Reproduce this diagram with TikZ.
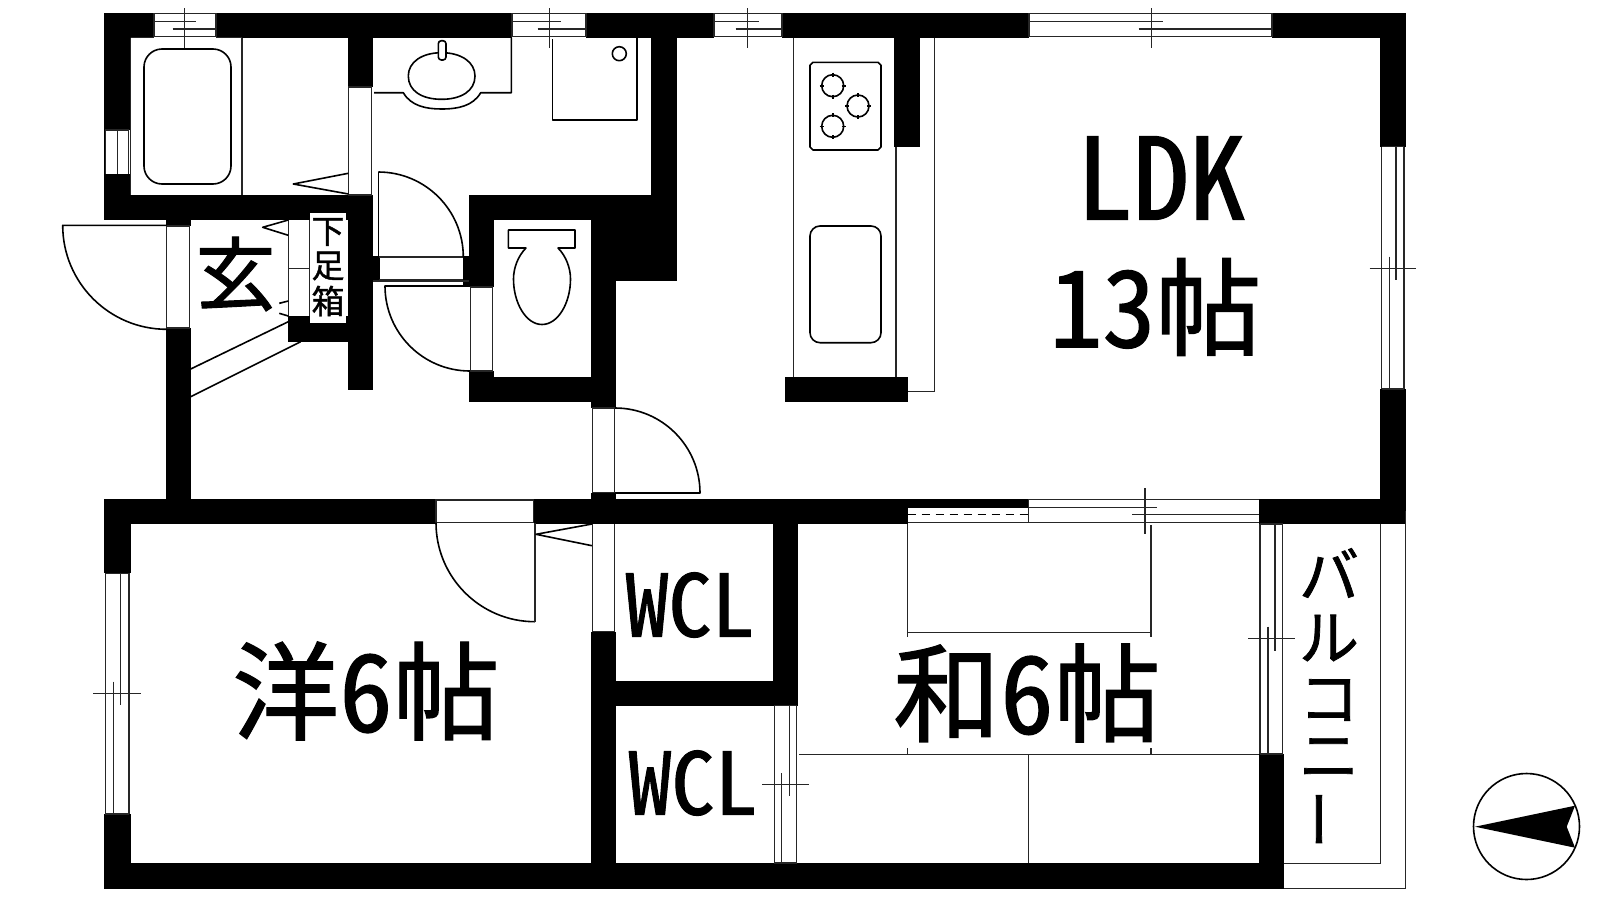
\documentclass[tikz,border=0pt]{standalone}
\usepackage{fontspec}
\newfontfamily\jp[FakeBold=1.2,RawFeature={+hwid}]{Noto Sans CJK JP}
\tikzset{
  wall/.style={fill=black},
  hole/.style={fill=white},
  ln/.style={draw=black!85,line width=.75pt},
  fx/.style={draw=black,line width=.8pt,line join=round},
  lbl/.style={inner sep=0pt,outer sep=0pt,text=black,anchor=center},
}
\newcommand\fs[1]{\jp\fontsize{#1pt}{#1pt}\selectfont}
% top window: x1 x2 xa xb xt (upper line x1..xa, lower line xb..x2, tick xt)
\newcommand\topwin[5]{%
  \fill[hole] (#1,13) rectangle (#2,37.7);
  \draw[ln] (#1,13.5) -- (#2,13.5) (#1,36.7) -- (#2,36.7) (#1,13) -- (#1,37) (#2,13) -- (#2,37);
  \draw[ln] (#1,21.7) -- (#3,21.7) (#4,29) -- (#2,29) (#5,8) -- (#5,48);}
% side window: xl xr x-a x-b y1 y2 ya yb yt
\newcommand\sidewin[9]{%
  \fill[hole] (#1,#5) rectangle (#2,#6);
  \draw[ln] (#1,#5) -- (#1,#6) (#2,#5) -- (#2,#6) (#1,#5) -- (#2,#5) (#1,#6) -- (#2,#6);
  \draw[ln] (#3,#5) -- (#3,#7) (#4,#8) -- (#4,#6) (#1-12,#9) -- (#2+12,#9);}
\begin{document}
\begin{tikzpicture}[x=.5pt,y=-.5pt]
\useasboundingbox (0,0) rectangle (1600,900);
\fill[white] (0,0) rectangle (1600,900);
% ---- walls
\fill[wall] (104,13) rectangle (1405.7,37.7);
\fill[wall] (104,13) rectangle (130.5,220);
\fill[wall] (104,195) rectangle (373,220);
\fill[wall] (348,13) rectangle (373,87);
\fill[wall] (348,195) rectangle (373,390);
\fill[wall] (165.5,220) rectangle (190.7,510);
\fill[wall] (287.5,316) rectangle (373,341.7);
\fill[wall] (373,256) rectangle (379.5,281);
\fill[wall] (462.7,256) rectangle (494,287);
\fill[wall] (469,195) rectangle (494,287);
\fill[wall] (469,195) rectangle (677,220);
\fill[wall] (651,13) rectangle (677,281);
\fill[wall] (591.3,220) rectangle (677,281);
\fill[wall] (591.3,281) rectangle (615.7,408);
\fill[wall] (469,371) rectangle (494,401.7);
\fill[wall] (469,377) rectangle (615.7,401.7);
\fill[wall] (591.3,492.7) rectangle (615.7,524);
\fill[wall] (894,37) rectangle (920,146.7);
\fill[wall] (785,377) rectangle (908,401.7);
\fill[wall] (1380,13) rectangle (1405.7,146.7);
\fill[wall] (1380,389) rectangle (1405.7,523.7);
\fill[wall] (104,499) rectangle (436,524);
\fill[wall] (533.5,499) rectangle (907.7,524);
\fill[wall] (907.7,499) rectangle (1028.7,508);
\fill[wall] (1259,499) rectangle (1405.7,523.7);
\fill[wall] (104,499) rectangle (130.5,573.3);
\fill[wall] (104,814) rectangle (130.5,889);
\fill[wall] (104,863) rectangle (1283.7,888.7);
\fill[wall] (591.3,631.7) rectangle (615.7,888);
\fill[wall] (591.3,681) rectangle (797.7,705.7);
\fill[wall] (773.3,524) rectangle (797.7,705.7);
\fill[wall] (1259,754) rectangle (1283.7,888);
% ---- top windows
\topwin{154}{216}{196}{172.7}{184.3}
\topwin{512}{586}{561.3}{537.7}{549.3}
\topwin{714}{782}{759}{735.7}{747.3}
\topwin{1029}{1272}{1163}{1138.5}{1151.3}
% bath left window
\fill[hole] (104.5,130) rectangle (130.5,174);
\draw[ln] (105.7,130) -- (105.7,174) (117.7,130) -- (117.7,174) (128.7,130) -- (128.7,174) (105,130) -- (129,130);
% bath
\draw[ln] (130.7,37.7) -- (130.7,195) (242,37.7) -- (242,195) (130.7,37.7) -- (154,37.7) (216,37.7) -- (242,37.7);
\draw[fx,rounded corners=9pt] (144,49) rectangle (231,184);
% bath door
\draw[ln] (348.7,87) rectangle (371.7,195);
\draw[fx] (348.3,173.3) -- (293.3,184) -- (348.3,194);
% washbasin
\draw[fx] (374,92.7) -- (403.3,92.7) .. controls (411,106) and (426,109) .. (441.7,109) .. controls (458,109) and (473,106) .. (480.7,92.7) -- (511.3,92.7) -- (511.3,37.7);
\draw[fx] (408.3,76) .. controls (408.3,62) and (422,52.7) .. (441.7,52.7) .. controls (461,52.7) and (475,62) .. (475,76) .. controls (475,91) and (461,99.3) .. (441.7,99.3) .. controls (422,99.3) and (408.3,91) .. (408.3,76) -- cycle;
\filldraw[fx,fill=white,rounded corners=1.5pt] (438.3,40.7) rectangle (446,60);
% washing pan
\draw[fx] (552.3,39) -- (552.3,120) -- (636.7,120) -- (636.7,37.7);
\draw[fx] (619.3,53.7) circle[radius=7];
% wash door
\draw[ln] (379,257) -- (463,257) (379,279.5) -- (463,279.5) (373,281) -- (469,281);
\draw[fx] (378.3,257) -- (378.3,172);
\draw[fx] (378.3,172) arc[start angle=-90,end angle=0,radius=85];
% toilet door
\draw[ln] (470.7,287) rectangle (492.7,371);
\draw[fx] (470,286) -- (385,286) arc[start angle=180,end angle=90,radius=85];
% toilet
\draw[fx] (508.3,230) -- (575,230) -- (575,248) -- (558,248)
  .. controls (566,256) and (570.5,268) .. (570.5,279) .. controls (570.5,303) and (558,324.5) .. (542,324.5)
  .. controls (526,324.5) and (513.5,303) .. (513.5,279) .. controls (513.5,268) and (518,256) .. (526,248) -- (508.3,248) -- cycle;
% entrance door
\fill[hole] (165.5,226) rectangle (190.7,328);
\draw[ln] (166.7,226) rectangle (189.3,328);
\draw[fx] (166.7,225.3) -- (62.7,225.3) arc[start angle=180,end angle=90,radius=104];
% shoe box
\draw[ln] (288.3,220) -- (288.3,316) (309.3,220) -- (309.3,316) (288.3,268.3) -- (309.3,268.3);
\draw[fx] (288.3,220) -- (262.7,227.3) -- (288.3,235.3);
\draw[fx] (279.3,303.3) -- (288.3,301) (279.3,313.3) -- (288.3,316);
\draw[fx] (190.7,369) -- (288.3,321.7) (190.7,396.7) -- (300.7,341.7);
\node[lbl,fill=white,minimum width=18pt,minimum height=55pt] (kbox) at (328,268) {};
\node[lbl] (ge) at (235.5,274) {\fs{40}玄};
\node[lbl] (ka) at (328,232) {\fs{16.5}下};
\node[lbl] (so) at (328,266) {\fs{16.5}足};
\node[lbl] (ba) at (328,301) {\fs{16.5}箱};
% hall door
\fill[hole] (591.3,408) rectangle (615.7,492.7);
\draw[ln] (592.3,408) rectangle (614.3,492.7);
\draw[fx] (615,408) arc[start angle=-90,end angle=0,radius=85] -- (615,493);
% kitchen
\draw[ln] (793.3,37.7) -- (793.3,377) (896,146.7) -- (896,377);
\draw[ln] (934.7,37.7) -- (934.7,391.7) -- (908,391.7);
\draw[fx] (813,62.3) -- (878,62.3) -- (881,65.3) -- (881,147) -- (878,150) -- (813,150) -- (810,147) -- (810,65.3) -- cycle;
\foreach \cx/\cy in {832.7/85.7,858/106,832.7/126.3}{
  \draw[fx] (\cx,\cy) circle[radius=11];
  \draw[fx] (\cx-13,\cy) -- (\cx-9,\cy) (\cx+9,\cy) -- (\cx+13,\cy) (\cx,\cy-13) -- (\cx,\cy-9) (\cx,\cy+9) -- (\cx,\cy+13);
}
\draw[fx,rounded corners=5pt] (810,226) rectangle (881,342.7);
% right window
\sidewin{1381.7}{1404}{1396}{1389.5}{146.7}{389}{280}{256.7}{268.3}
% lower-left window
\sidewin{105.3}{129}{120.7}{113.3}{573.3}{814}{705}{681.7}{693.3}
% bedroom door
\draw[ln] (436,500) rectangle (533.5,522.7);
\draw[fx] (436,522.7) arc[start angle=180,end angle=90,radius=99];
\draw[ln] (535,522.7) -- (535,621.7);
\draw[fx] (592,524) -- (536,534.3) -- (592,545.7);
% WCL door
\draw[ln] (592.3,524) -- (592.3,631.7) (614.3,524) -- (614.3,631.7) (592.3,631.7) -- (614.3,631.7);
% WCL window
\sidewin{774.3}{796.7}{789.3}{781.3}{705.7}{863}{796}{773.3}{784.3}
% LDK/washitsu window
\draw[ln] (1028.7,499.7) -- (1259,499.7) (907.7,522.7) -- (1259,522.7) (1028.7,499) -- (1028.7,522.7);
\draw[ln] (1028.7,507.7) -- (1157,507.7) (1132,514.3) -- (1259,514.3) (1144.9,488.3) -- (1144.9,534);
\draw[draw=black,line width=.7pt,dash pattern=on 4pt off 3pt] (907.7,514.3) -- (1028.7,514.3);
% oshiire, tatami
\draw[ln] (907.7,524) -- (907.7,637) (907.7,632.3) -- (1151.2,632.3) (1151.2,525) -- (1151.2,637);
\draw[ln] (907.7,748) -- (907.7,754.3) (1151.2,748) -- (1151.2,754.3);
\draw[ln] (799,754.3) -- (1259,754.3) (1028.7,754.3) -- (1028.7,863);
% balcony window
\sidewin{1260}{1282.7}{1275}{1268}{524}{754}{650.7}{626.7}{638.3}
% balcony
\draw[ln] (1380.3,523.7) -- (1380.3,863.3) -- (1283.7,863.3);
\draw[ln] (1405.7,511) -- (1405.7,888.3) -- (1283.7,888.3);
% room labels
\node[lbl] (ldk) at (1161,178) {\fs{56.5}LDK};
\node[lbl] (jo) at (1155.5,307) {\fs{53}13帖};
\node[lbl] (yo) at (366,691) {\fs{53.5}洋6帖};
\node[lbl] (wa) at (1027,693) {\fs{53.5}和6帖};
\node[lbl] (w1) at (690,605) {\fs{43}WCL};
\node[lbl] (w2) at (693,783) {\fs{43}WCL};
\node[lbl] (b1) at (1329,573) {\fs{30}バ};
\node[lbl] (b2) at (1329,638) {\fs{30}ル};
\node[lbl] (b3) at (1329,700) {\fs{30}コ};
\node[lbl] (b4) at (1329,758) {\fs{30}ニ};
\node[lbl,rotate=90] (b5) at (1329,819) {\fs{30}ー};
% compass
\draw[fx] (1526.5,826.5) circle[radius=53];
\fill[black] (1475,826.7) -- (1575,805.7) -- (1566.7,826.7) -- (1575,847.7) -- cycle;
\end{tikzpicture}
\end{document}
